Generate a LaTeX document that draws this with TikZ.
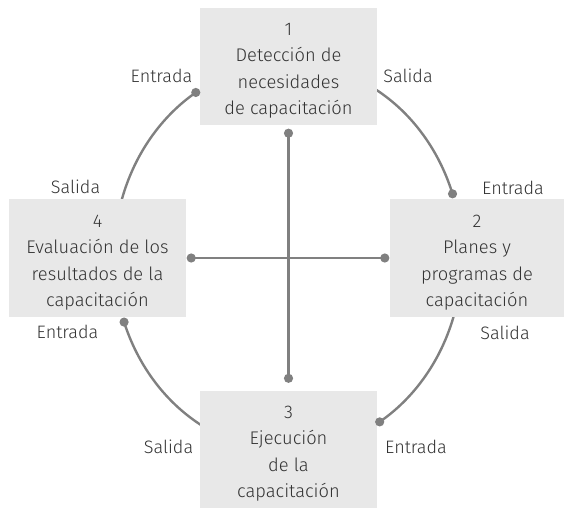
\documentclass[tikz,border=0pt]{standalone}
\usepackage{fontspec}
\setmainfont{Fira Sans}[UprightFont=* Light]
\usetikzlibrary{calc}
\definecolor{linegray}{HTML}{808080}
\definecolor{boxgray}{HTML}{E8E8E8}
\definecolor{txt}{HTML}{333333}
\tikzset{
  stagebox/.style={fill=boxgray, draw=none, inner sep=0pt,
    minimum width=177pt, minimum height=117pt},
  stagetext/.style={align=center, text=txt, inner sep=0pt, yshift=-4.5pt,
    font=\fontsize{18.3}{26.5}\selectfont},
  lbl/.style={text=txt, inner sep=0pt, font=\fontsize{18}{22}\selectfont},
  conn/.style={draw=linegray, line width=2.4pt},
  dot/.style={fill=linegray, draw=none}
}
\begin{document}
\begin{tikzpicture}[x=1pt,y=1pt]
\useasboundingbox (0,0) rectangle (564,507);
\coordinate (O) at (288,250);
% arcs (drawn first, boxes cover their starts)
\coordinate (d1) at ($(O)+(122:174 and 194)$);
\coordinate (d2) at ($(O)+(19:174 and 194)$);
\coordinate (d3) at ($(O)+(-58.2:174 and 194)$);
\coordinate (d4) at ($(O)+(199.6:174 and 194)$);
\draw[conn] ($(O)+(65:174 and 194)$) arc[start angle=65, end angle=19, x radius=174, y radius=194];
\draw[conn] ($(O)+(-12:174 and 194)$) arc[start angle=-12, end angle=-58.2, x radius=174, y radius=194];
\draw[conn] ($(O)+(245:174 and 194)$) arc[start angle=245, end angle=199.6, x radius=174, y radius=194];
\draw[conn] ($(O)+(170:174 and 194)$) arc[start angle=170, end angle=122, x radius=174, y radius=194];
% boxes
\node[stagebox] (b1) at (288.5,440.5) {};
\node[stagebox, minimum width=174pt, minimum height=118pt] (b2) at (477,249) {};
\node[stagebox] (b3) at (288.5,58) {};
\node[stagebox, minimum height=118pt] (b4) at (97.5,249) {};
\node[stagetext] (t1) at (b1.center) {1\\Detección de\\necesidades\\de capacitación};
\node[stagetext] (t2) at (b2.center) {2\\Planes y\\programas de\\capacitación};
\node[stagetext] (t3) at (b3.center) {3\\Ejecución\\de la\\capacitación};
\node[stagetext] (t4) at (b4.center) {4\\Evaluación de los\\resultados de la\\capacitación};
% cross
\coordinate (v1) at ($(b1.south)+(0,-8)$);
\coordinate (v3) at ($(b3.north)+(0,12)$);
\coordinate (h4) at ($(b4.east)+(5,0)$);
\coordinate (h2) at ($(b2.west)+(-5,0)$);
\draw[conn] (v1) -- (v3);
\draw[conn] (h4) -- (h2);
\foreach \p in {d1,d2,d3,d4,v1,v3,h4,h2} \fill[dot] (\p) circle (4.6);
% labels
\node[lbl] (l1) at (161.5,431) {Entrada};
\node[lbl] (l2) at (408,431) {Salida};
\node[lbl] (l3) at (513,319) {Entrada};
\node[lbl] (l4) at (505,174) {Salida};
\node[lbl] (l5) at (416,60) {Entrada};
\node[lbl] (l6) at (168.5,60) {Salida};
\node[lbl] (l7) at (67.5,175) {Entrada};
\node[lbl] (l8) at (75.5,320) {Salida};
\end{tikzpicture}
\end{document}
